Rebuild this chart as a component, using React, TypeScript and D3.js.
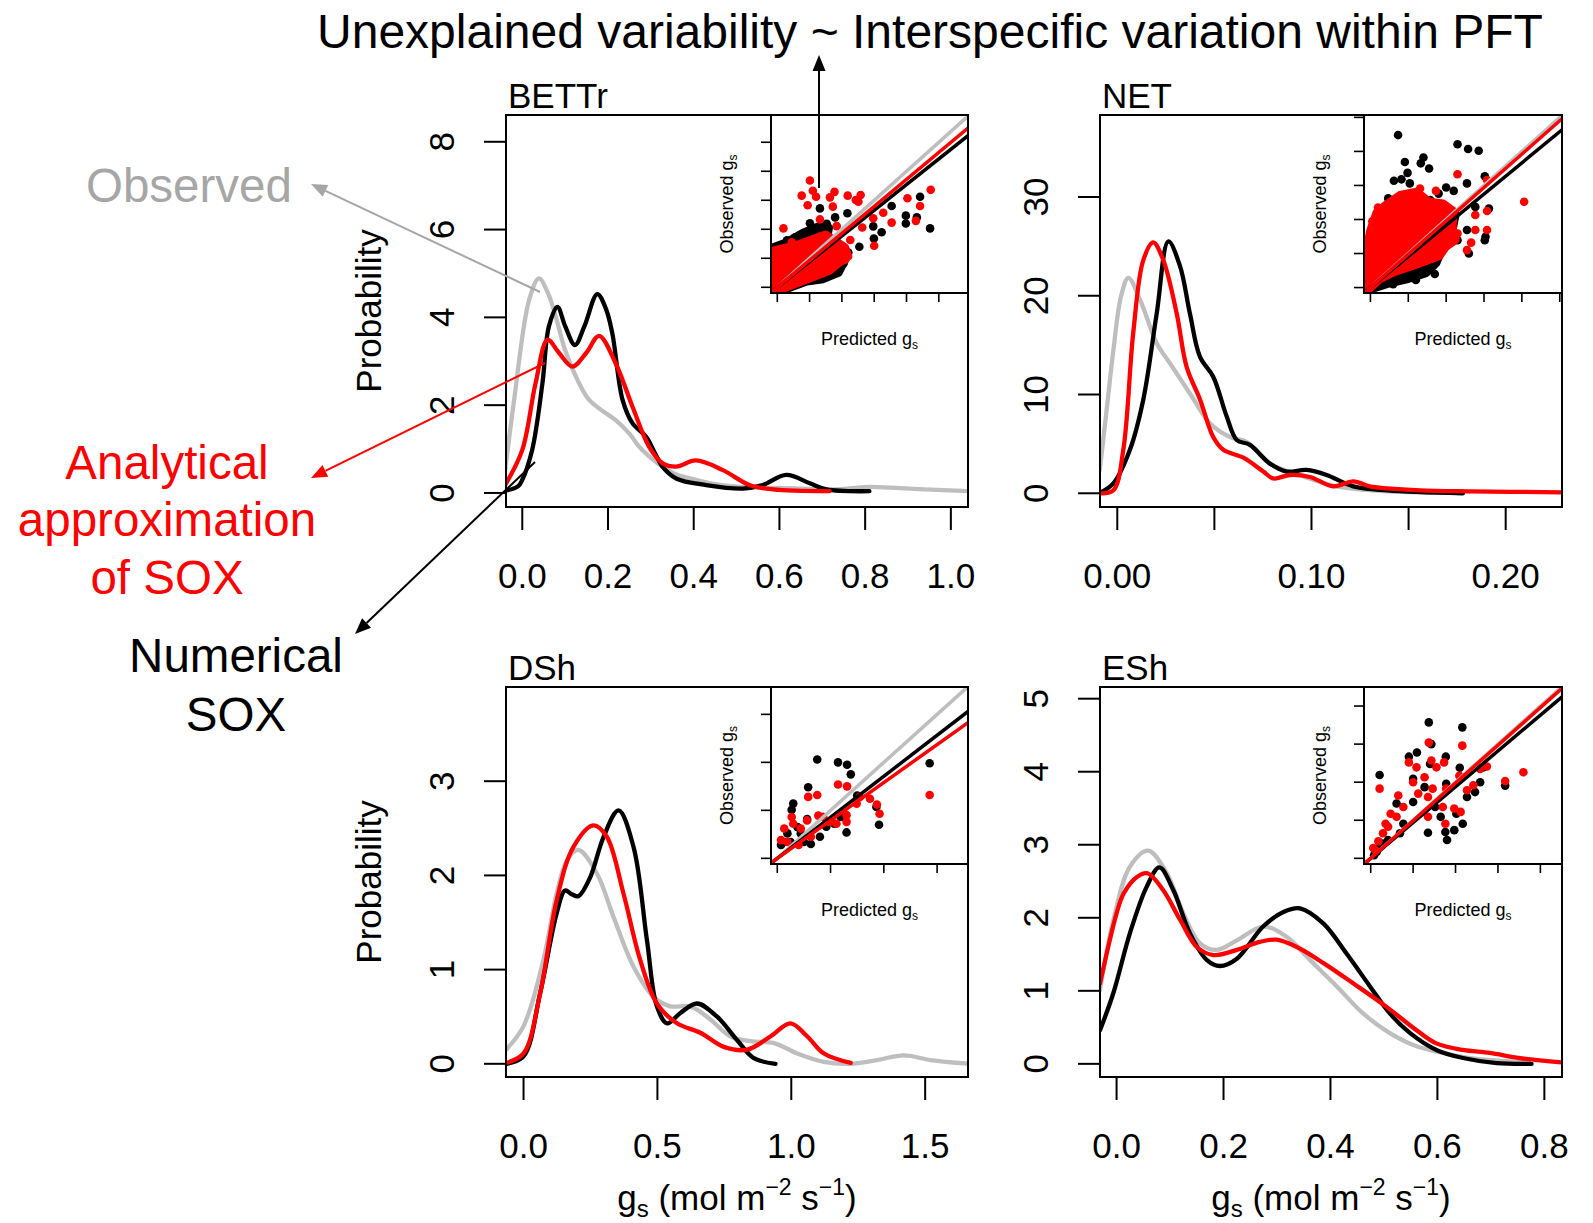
import React from 'react';
import * as d3 from 'd3';

const FONT = "'Liberation Sans', Arial, Helvetica, sans-serif";
const GREY = '#bebebe';
const RED = '#ff0000';

// density curves: [gs, probability]
const bettrObserved = [[-0.04, 0.5], [-0.019, 2.12], [0.016, 4.4], [0.039, 4.89], [0.06, 4.55], [0.08, 3.95], [0.1, 3.25], [0.13, 2.55], [0.156, 2.12], [0.19, 1.85], [0.218, 1.66], [0.25, 1.35], [0.273, 1.05], [0.3, 0.8], [0.327, 0.6], [0.36, 0.42], [0.405, 0.3], [0.45, 0.2], [0.507, 0.14], [0.56, 0.12], [0.624, 0.11], [0.7, 0.08], [0.76, 0.1], [0.81, 0.14], [0.86, 0.12], [0.94, 0.08], [1.04, 0.04]];
const bettrNumerical = [[-0.04, 0.05], [-0.01, 0.15], [0.0, 0.3], [0.023, 0.98], [0.047, 2.5], [0.062, 3.79], [0.082, 4.24], [0.1, 3.8], [0.123, 3.37], [0.145, 3.8], [0.175, 4.53], [0.195, 4.2], [0.21, 3.64], [0.234, 2.12], [0.257, 1.59], [0.289, 1.28], [0.31, 0.9], [0.327, 0.6], [0.359, 0.33], [0.429, 0.18], [0.515, 0.1], [0.561, 0.18], [0.616, 0.41], [0.671, 0.22], [0.71, 0.08], [0.81, 0.04]];
const bettrAnalytical = [[-0.04, 0.18], [0.0, 0.98], [0.031, 2.5], [0.059, 3.49], [0.085, 3.2], [0.117, 2.88], [0.15, 3.2], [0.179, 3.58], [0.218, 2.95], [0.257, 1.97], [0.296, 1.05], [0.327, 0.68], [0.359, 0.6], [0.405, 0.74], [0.468, 0.52], [0.53, 0.18], [0.585, 0.08], [0.717, 0.04]];

const netObserved = [[-0.009, 2.36], [-0.0055, 8.4], [-0.002, 14.5], [0.002, 20.0], [0.0057, 21.8], [0.0117, 19.6], [0.0203, 15.2], [0.027, 13.2], [0.0374, 10.1], [0.0477, 7.1], [0.058, 5.7], [0.0666, 5.2], [0.0786, 3.0], [0.0958, 1.7], [0.113, 0.7], [0.139, 0.2], [0.178, 0.04]];
const netNumerical = [[-0.009, 0.04], [-0.002, 1.0], [0.0065, 4.4], [0.0134, 9.5], [0.0203, 18.2], [0.0263, 25.5], [0.0323, 23.0], [0.0374, 18.2], [0.0426, 13.8], [0.0494, 11.8], [0.0563, 7.8], [0.0615, 5.4], [0.0683, 4.9], [0.0786, 3.0], [0.0872, 2.2], [0.0975, 2.36], [0.1078, 1.85], [0.1215, 0.7], [0.139, 0.3], [0.178, 0.0]];
const netAnalytical = [[-0.009, 0.0], [-0.002, 0.3], [0.0031, 4.4], [0.0082, 16.2], [0.0134, 23.6], [0.0185, 25.4], [0.0237, 23.6], [0.0306, 18.2], [0.0357, 12.8], [0.0426, 9.5], [0.0494, 5.7], [0.0546, 4.4], [0.0649, 3.6], [0.0752, 2.2], [0.0803, 1.5], [0.0889, 1.85], [0.0992, 1.65], [0.1112, 0.7], [0.1215, 1.2], [0.13, 0.7], [0.139, 0.5], [0.156, 0.3], [0.1816, 0.2], [0.229, 0.1]];

const dshObserved = [[-0.065, 0.15], [0.0, 0.4], [0.074, 1.1], [0.124, 1.81], [0.162, 2.16], [0.205, 2.27], [0.274, 2.02], [0.336, 1.56], [0.411, 1.03], [0.486, 0.71], [0.548, 0.61], [0.623, 0.61], [0.698, 0.47], [0.773, 0.29], [0.848, 0.24], [0.935, 0.22], [1.022, 0.11], [1.122, 0.02], [1.22, 0.0], [1.32, 0.04], [1.42, 0.09], [1.52, 0.04], [1.665, 0.0]];
const dshNumerical = [[-0.065, 0.0], [0.0, 0.08], [0.062, 0.75], [0.124, 1.6], [0.155, 1.84], [0.18, 1.8], [0.205, 1.78], [0.249, 1.98], [0.299, 2.41], [0.355, 2.69], [0.411, 2.3], [0.461, 1.31], [0.498, 0.61], [0.536, 0.43], [0.586, 0.54], [0.648, 0.64], [0.723, 0.5], [0.798, 0.25], [0.86, 0.06], [0.941, 0.0]];
const dshAnalytical = [[-0.065, 0.01], [0.0, 0.11], [0.062, 0.75], [0.124, 1.74], [0.186, 2.3], [0.261, 2.53], [0.311, 2.41], [0.373, 1.81], [0.436, 1.1], [0.498, 0.64], [0.573, 0.43], [0.66, 0.33], [0.748, 0.18], [0.835, 0.15], [0.922, 0.29], [0.997, 0.43], [1.06, 0.29], [1.122, 0.11], [1.222, 0.01]];

const eshObserved = [[-0.031, 1.01], [-0.006, 1.97], [0.025, 2.7], [0.059, 2.92], [0.094, 2.61], [0.125, 2.06], [0.156, 1.65], [0.187, 1.56], [0.225, 1.69], [0.274, 1.88], [0.318, 1.74], [0.362, 1.42], [0.412, 1.06], [0.461, 0.69], [0.511, 0.42], [0.561, 0.24], [0.611, 0.15], [0.661, 0.08], [0.723, 0.04], [0.77, 0.02]];
const eshNumerical = [[-0.031, 0.46], [-0.006, 0.97], [0.025, 1.79], [0.056, 2.42], [0.08, 2.69], [0.106, 2.38], [0.137, 1.79], [0.169, 1.42], [0.193, 1.34], [0.225, 1.44], [0.274, 1.88], [0.312, 2.08], [0.343, 2.13], [0.387, 1.92], [0.43, 1.51], [0.474, 1.06], [0.511, 0.69], [0.549, 0.42], [0.598, 0.19], [0.648, 0.08], [0.711, 0.01], [0.776, 0.0]];
const eshAnalytical = [[-0.031, 1.1], [0.0, 2.06], [0.013, 2.33], [0.038, 2.56], [0.058, 2.61], [0.087, 2.38], [0.119, 1.97], [0.15, 1.6], [0.181, 1.49], [0.225, 1.56], [0.268, 1.67], [0.299, 1.7], [0.337, 1.6], [0.387, 1.38], [0.443, 1.1], [0.505, 0.78], [0.561, 0.46], [0.598, 0.28], [0.648, 0.19], [0.698, 0.15], [0.754, 0.08], [0.832, 0.02]];

// inset scatter: [predicted, observed] in inset tick units
const bettrPtsNum = [[1.32, 2.72], [1.79, 2.41], [2.17, 2.55], [1.01, 2.21], [1.53, 2.19], [0.7, 1.8], [3.54, 2.8], [4.42, 3.12], [3.98, 2.47], [4.32, 2.41], [3.98, 2.2], [4.73, 2.03], [2.97, 2.1], [3.23, 1.9], [2.99, 1.68], [2.54, 1.4], [2.05, 1.06], [1.58, 0.54], [2.05, 0.82], [1.32, 0.37], [1.07, 0.25], [0.3, 1.62], [0.55, 1.72], [1.9, 0.6], [2.2, 1.2]];
const bettrPtsAna = [[1.01, 3.68], [0.755, 3.16], [1.1, 3.33], [1.2, 3.12], [0.94, 2.83], [1.77, 3.29], [1.63, 3.1], [1.72, 2.78], [2.18, 3.16], [2.58, 3.18], [2.43, 3.01], [2.51, 2.95], [0.19, 2.03], [1.32, 2.34], [1.84, 2.11], [2.97, 2.38], [3.28, 2.57], [3.54, 2.23], [3.0, 1.43], [4.03, 3.07], [4.42, 2.8], [4.75, 3.36], [4.29, 2.29], [2.63, 2.06], [2.26, 1.63], [1.94, 1.4], [1.32, 1.75], [1.63, 0.88], [1.2, 0.71], [0.45, 1.55], [2.1, 0.95]];
const bettrCloudNum = [[-0.15, -0.15], [-0.13, 1.38], [0.29, 1.55], [0.8, 1.88], [1.27, 2.1], [1.6, 2.05], [1.53, 1.63], [1.9, 1.23], [2.1, 0.94], [1.9, 0.5], [1.42, 0.28], [0.91, 0.2], [0.39, -0.02], [-0.02, -0.15]];
const bettrCloudAna = [[-0.13, -0.15], [-0.1, 1.27], [0.29, 1.38], [0.7, 1.5], [1.11, 1.66], [1.5, 1.82], [1.8, 1.6], [2.1, 1.38], [2.2, 1.06], [1.9, 0.83], [1.6, 0.56], [1.22, 0.4], [0.8, 0.22], [0.39, 0.04], [-0.02, -0.15]];

const netPtsNum = [[0.73, 4.48], [2.3, 4.21], [2.58, 4.07], [2.86, 4.02], [0.91, 3.69], [1.33, 3.65], [1.55, 3.5], [1.4, 3.82], [0.98, 3.37], [0.62, 3.14], [0.82, 3.18], [1.04, 3.06], [2.55, 3.06], [3.02, 3.27], [2.0, 2.94], [2.2, 2.84], [1.8, 2.76], [0.47, 2.62], [0.65, 2.57], [1.58, 2.57], [1.04, 2.62], [2.77, 2.37], [3.13, 2.32], [2.55, 1.69], [3.04, 1.49], [3.02, 1.39], [2.3, 1.39], [2.6, 1.0], [0.25, 1.88], [1.7, 0.4], [1.2, 0.22], [0.6, 0.1]];
const netPtsAna = [[2.3, 3.33], [3.08, 3.16], [4.06, 2.52], [1.73, 2.84], [1.31, 2.91], [0.47, 2.27], [2.77, 2.13], [3.08, 2.25], [3.08, 1.69], [2.77, 1.69], [2.3, 1.59], [2.66, 1.32], [2.55, 1.1], [1.31, 2.57], [0.05, 1.95], [0.2, 2.35]];
const netCloudNum = [[-0.15, -0.08], [-0.1, 1.19], [0.07, 1.74], [0.29, 2.3], [0.56, 2.5], [0.87, 2.68], [1.22, 2.52], [1.58, 2.42], [2.02, 2.32], [2.25, 2.15], [2.17, 1.69], [2.0, 1.39], [1.74, 0.72], [1.47, 0.42], [0.96, 0.24], [0.43, 0.1], [0.07, -0.03]];
const netCloudAna = [[-0.15, -0.08], [-0.1, 1.1], [-0.01, 1.66], [0.16, 2.2], [0.43, 2.45], [0.78, 2.72], [1.22, 2.82], [1.56, 2.52], [1.92, 2.47], [2.2, 2.24], [2.17, 1.78], [2.25, 1.4], [2.0, 1.2], [1.82, 0.92], [1.56, 0.82], [1.13, 0.64], [0.6, 0.44], [0.25, 0.25], [-0.02, -0.03]];

const dshPtsNum = [[0.75, 2.06], [1.14, 2.0], [1.31, 1.95], [1.38, 1.75], [0.58, 1.48], [0.3, 1.14], [0.27, 1.01], [2.86, 1.98], [1.5, 1.31], [1.86, 1.07], [1.91, 0.7], [1.3, 0.54], [0.86, 0.86], [0.92, 0.66], [0.8, 0.45], [0.56, 0.82], [0.5, 0.34], [0.25, 0.34], [0.19, 0.52], [0.38, 0.65], [0.63, 0.3], [1.19, 0.86], [1.07, 0.72], [0.13, 0.34], [0.44, 0.52], [0.07, 0.28]];
const dshPtsAna = [[1.14, 1.54], [1.31, 1.5], [0.58, 1.28], [0.75, 1.32], [2.86, 1.32], [1.49, 1.14], [1.74, 1.24], [1.87, 1.12], [1.92, 0.93], [1.3, 0.9], [1.3, 0.76], [0.86, 0.86], [0.98, 0.76], [0.27, 0.86], [0.3, 0.72], [0.13, 0.62], [0.56, 0.79], [0.44, 0.62], [0.19, 0.34], [0.63, 0.45], [0.77, 0.89], [1.55, 1.28], [0.4, 0.28], [0.07, 0.38], [1.11, 0.72]];

const eshPtsNum = [[1.37, 3.57], [2.16, 3.44], [1.43, 3.0], [0.21, 2.19], [1.09, 2.78], [0.9, 2.67], [1.77, 2.67], [1.4, 2.48], [2.1, 2.38], [1.0, 2.09], [1.27, 1.87], [1.78, 1.96], [2.58, 2.0], [3.17, 1.91], [2.66, 2.39], [2.46, 1.74], [2.27, 1.61], [0.61, 1.44], [1.0, 1.48], [1.65, 1.09], [1.35, 0.67], [1.8, 0.48], [1.76, 0.69], [1.97, 0.74], [2.17, 0.91], [2.02, 1.17], [0.77, 0.91], [0.69, 0.66], [0.41, 0.48], [0.21, 0.31], [0.14, 0.17], [0.29, 0.39], [1.52, 1.35], [0.08, 0.08]];
const eshPtsAna = [[1.37, 3.04], [2.16, 2.96], [0.9, 2.52], [1.08, 2.39], [1.43, 2.57], [1.55, 2.39], [1.73, 2.52], [0.21, 1.83], [1.0, 2.0], [1.27, 2.13], [1.46, 1.83], [1.78, 1.83], [2.09, 2.17], [2.58, 2.35], [2.74, 2.41], [3.6, 2.26], [3.17, 2.03], [2.42, 1.92], [2.27, 1.79], [0.65, 1.65], [0.77, 1.35], [0.47, 1.17], [0.35, 0.91], [1.35, 1.09], [1.7, 1.35], [1.97, 1.31], [2.12, 1.22], [1.76, 0.91], [1.35, 1.61], [0.61, 1.09], [0.29, 0.66], [0.18, 0.45], [0.06, 0.27], [0.41, 0.83], [1.12, 1.7], [0.12, 0.2]];

// regression slopes through origin (numerical, analytical); 1:1 line drawn in grey
const bettrSlopes = [0.885, 0.93];
const netSlopes = [0.916, 0.98];
const dshSlopes = [0.855, 0.79];
const eshSlopes = [0.94, 0.99];

const panels = [
  {
    id: 'bettr', title: 'BETTr',
    box: { x0: 506, x1: 968, y0: 115, y1: 507 },
    xDomain: [-0.038, 1.04], yDomain: [-0.32, 8.61],
    xTicks: [0, 0.2, 0.4, 0.6, 0.8, 1.0], xLabels: [0, 0.2, 0.4, 0.6, 0.8, 1.0], xFmt: '.1f',
    yTicks: [0, 2, 4, 6, 8], yLabel: true, xTitle: false,
    curves: [bettrObserved, bettrNumerical, bettrAnalytical],
    inset: {
      box: { x0: 771, x1: 968, y0: 115, y1: 293 },
      xDomain: [-0.195, 5.904], yDomain: [-0.197, 5.94], ticks: [0, 1, 2, 3, 4, 5],
      ptsNum: bettrPtsNum, ptsAna: bettrPtsAna, cloudNum: bettrCloudNum, cloudAna: bettrCloudAna, slopes: bettrSlopes,
    },
  },
  {
    id: 'net', title: 'NET',
    box: { x0: 1100, x1: 1562, y0: 115, y1: 507 },
    xDomain: [-0.0089, 0.229], yDomain: [-1.39, 38.3],
    xTicks: [0, 0.05, 0.1, 0.15, 0.2], xLabels: [0, 0.1, 0.2], xFmt: '.2f',
    yTicks: [0, 10, 20, 30], yLabel: false, xTitle: false,
    curves: [netObserved, netNumerical, netAnalytical],
    inset: {
      box: { x0: 1364, x1: 1562, y0: 115, y1: 293 },
      xDomain: [-0.17, 5.06], yDomain: [-0.16, 5.07], ticks: [0, 1, 2, 3, 4, 5],
      ptsNum: netPtsNum, ptsAna: netPtsAna, cloudNum: netCloudNum, cloudAna: netCloudAna, slopes: netSlopes,
    },
  },
  {
    id: 'dsh', title: 'DSh',
    box: { x0: 506, x1: 968, y0: 687, y1: 1077 },
    xDomain: [-0.0655, 1.66], yDomain: [-0.14, 4.0],
    xTicks: [0, 0.5, 1.0, 1.5], xLabels: [0, 0.5, 1.0, 1.5], xFmt: '.1f',
    yTicks: [0, 1, 2, 3], yLabel: true, xTitle: true,
    curves: [dshObserved, dshNumerical, dshAnalytical],
    inset: {
      box: { x0: 771, x1: 968, y0: 687, y1: 864 },
      xDomain: [-0.118, 3.58], yDomain: [-0.118, 3.57], ticks: [0, 1, 2, 3],
      ptsNum: dshPtsNum, ptsAna: dshPtsAna, cloudNum: [], cloudAna: [], slopes: dshSlopes,
    },
  },
  {
    id: 'esh', title: 'ESh',
    box: { x0: 1100, x1: 1562, y0: 687, y1: 1077 },
    xDomain: [-0.031, 0.833], yDomain: [-0.18, 5.16],
    xTicks: [0, 0.2, 0.4, 0.6, 0.8], xLabels: [0, 0.2, 0.4, 0.6, 0.8], xFmt: '.1f',
    yTicks: [0, 1, 2, 3, 4, 5], yLabel: false, xTitle: true,
    curves: [eshObserved, eshNumerical, eshAnalytical],
    inset: {
      box: { x0: 1364, x1: 1562, y0: 687, y1: 864 },
      xDomain: [-0.158, 4.51], yDomain: [-0.149, 4.5], ticks: [0, 1, 2, 3, 4],
      ptsNum: eshPtsNum, ptsAna: eshPtsAna, cloudNum: [], cloudAna: [], slopes: eshSlopes,
    },
  },
];

function Inset({ id, ins }) {
  const { box } = ins;
  const x = d3.scaleLinear().domain(ins.xDomain).range([box.x0, box.x1]);
  const y = d3.scaleLinear().domain(ins.yDomain).range([box.y1, box.y0]);
  const cloud = d3.line().x(d => x(d[0])).y(d => y(d[1])).curve(d3.curveLinearClosed);
  const abline = (slope) => d3.line()([[x(ins.xDomain[0]), y(ins.xDomain[0] * slope)], [x(ins.xDomain[1]), y(ins.xDomain[1] * slope)]]);
  const cx = (box.x0 + box.x1) / 2;
  const cy = (box.y0 + box.y1) / 2;
  return (
    <g>
      <rect x={box.x0} y={box.y0} width={box.x1 - box.x0} height={box.y1 - box.y0} fill="#fff" />
      <clipPath id={`iclip-${id}`}>
        <rect x={box.x0} y={box.y0} width={box.x1 - box.x0} height={box.y1 - box.y0} />
      </clipPath>
      <g clipPath={`url(#iclip-${id})`}>
        {ins.cloudNum.length > 0 && <path d={cloud(ins.cloudNum)} fill="#000" stroke="#000" strokeWidth={8} strokeLinejoin="round" />}
        {ins.ptsNum.map((d, i) => <circle key={`n${i}`} cx={x(d[0])} cy={y(d[1])} r={4.3} fill="#000" />)}
        {ins.cloudAna.length > 0 && <path d={cloud(ins.cloudAna)} fill={RED} stroke={RED} strokeWidth={8} strokeLinejoin="round" />}
        {ins.ptsAna.map((d, i) => <circle key={`a${i}`} cx={x(d[0])} cy={y(d[1])} r={4.3} fill={RED} />)}
        <path d={abline(1)} stroke={GREY} strokeWidth={3.5} />
        <path d={abline(ins.slopes[0])} stroke="#000" strokeWidth={3.5} />
        <path d={abline(ins.slopes[1])} stroke={RED} strokeWidth={3.5} />
      </g>
      <rect x={box.x0} y={box.y0} width={box.x1 - box.x0} height={box.y1 - box.y0} fill="none" stroke="#000" strokeWidth={2} />
      {ins.ticks.map(t => <line key={`x${t}`} x1={x(t)} x2={x(t)} y1={box.y1 + 1} y2={box.y1 + 9} stroke="#000" strokeWidth={1.6} />)}
      {ins.ticks.map(t => <line key={`y${t}`} x1={box.x0 - 10} x2={box.x0} y1={y(t)} y2={y(t)} stroke="#000" strokeWidth={1.6} />)}
      <text x={cx} y={box.y1 + 52} textAnchor="middle" fontSize={18} fontFamily={FONT}>
        Predicted g<tspan fontSize={12} dy={4}>s</tspan>
      </text>
      <text transform={`translate(${box.x0 - 38},${cy}) rotate(-90)`} textAnchor="middle" fontSize={18} fontFamily={FONT}>
        Observed g<tspan fontSize={12} dy={4}>s</tspan>
      </text>
    </g>
  );
}

function Panel({ p }) {
  const { box } = p;
  const x = d3.scaleLinear().domain(p.xDomain).range([box.x0, box.x1]);
  const y = d3.scaleLinear().domain(p.yDomain).range([box.y1, box.y0]);
  const line = d3.line().x(d => x(d[0])).y(d => y(d[1])).curve(d3.curveCatmullRom.alpha(0.5));
  const colors = [GREY, '#000', RED];
  const fmt = d3.format(p.xFmt);
  const cx = (box.x0 + box.x1) / 2;
  const cy = (box.y0 + box.y1) / 2;
  return (
    <g>
      <clipPath id={`clip-${p.id}`}>
        <rect x={box.x0} y={box.y0} width={box.x1 - box.x0} height={box.y1 - box.y0} />
      </clipPath>
      <g clipPath={`url(#clip-${p.id})`}>
        {p.curves.map((c, i) => (
          <path key={i} d={line(c)} fill="none" stroke={colors[i]} strokeWidth={4.3} strokeLinejoin="round" strokeLinecap="round" />
        ))}
      </g>
      <Inset id={p.id} ins={p.inset} />
      <rect x={box.x0} y={box.y0} width={box.x1 - box.x0} height={box.y1 - box.y0} fill="none" stroke="#000" strokeWidth={2} />
      {p.xTicks.map(t => <line key={`xt${t}`} x1={x(t)} x2={x(t)} y1={box.y1 + 1} y2={box.y1 + 23} stroke="#000" strokeWidth={2} />)}
      {p.xLabels.map(t => (
        <text key={`xl${t}`} x={x(t)} y={box.y1 + 81} textAnchor="middle" fontSize={35} fontFamily={FONT}>{fmt(t)}</text>
      ))}
      {p.yTicks.map(t => <line key={`yt${t}`} x1={box.x0 - 22} x2={box.x0} y1={y(t)} y2={y(t)} stroke="#000" strokeWidth={2} />)}
      {p.yTicks.map(t => (
        <text key={`yl${t}`} transform={`translate(${box.x0 - 52},${y(t)}) rotate(-90)`} textAnchor="middle" fontSize={35} fontFamily={FONT}>{t}</text>
      ))}
      <text x={box.x0 + 2} y={box.y0 - 7} fontSize={35} fontFamily={FONT}>{p.title}</text>
      {p.yLabel && (
        <text transform={`translate(${box.x0 - 125},${cy}) rotate(-90)`} textAnchor="middle" fontSize={35} fontFamily={FONT}>Probability</text>
      )}
      {p.xTitle && (
        <text x={cx} y={box.y1 + 133} textAnchor="middle" fontSize={35} fontFamily={FONT}>
          g<tspan fontSize={24} dy={7}>s</tspan><tspan dy={-7}> (mol m</tspan><tspan fontSize={23} dy={-15}>−2</tspan><tspan dy={15}> s</tspan><tspan fontSize={23} dy={-15}>−1</tspan><tspan dy={15}>)</tspan>
        </text>
      )}
    </g>
  );
}

function Arrow({ from, to, color }) {
  const [x1, y1] = from;
  const [x2, y2] = to;
  const a = Math.atan2(y2 - y1, x2 - x1);
  const len = 16, hw = 6.5;
  const bx = x2 - len * Math.cos(a), by = y2 - len * Math.sin(a);
  const pts = [[x2, y2], [bx + hw * Math.sin(a), by - hw * Math.cos(a)], [bx - hw * Math.sin(a), by + hw * Math.cos(a)]];
  return (
    <g>
      <line x1={x1} y1={y1} x2={bx} y2={by} stroke={color} strokeWidth={2} />
      <polygon points={pts.map(p => p.join(',')).join(' ')} fill={color} />
    </g>
  );
}

export default function App() {
  return (
    <svg width={1593} height={1223} style={{ position: 'absolute', left: 0, top: 0, background: '#fff' }} fontFamily={FONT}>
      <rect width={1593} height={1223} fill="#fff" />
      {panels.map(p => <Panel key={p.id} p={p} />)}

      <text x={930} y={48} textAnchor="middle" fontSize={48} fontFamily={FONT}>
        Unexplained variability ~ Interspecific variation within PFT
      </text>
      <Arrow from={[819, 188]} to={[819, 55]} color="#000" />

      <text x={86} y={202} fontSize={47.5} fill="#a6a6a6" fontFamily={FONT}>Observed</text>
      <Arrow from={[540, 292]} to={[311, 184]} color="#a6a6a6" />

      <g fill={RED} fontSize={47.5} fontFamily={FONT} textAnchor="middle">
        <text x={167} y={479}>Analytical</text>
        <text x={167} y={536}>approximation</text>
        <text x={167} y={594}>of SOX</text>
      </g>
      <Arrow from={[545, 363]} to={[311, 478]} color={RED} />

      <g fill="#000" fontSize={47.5} fontFamily={FONT} textAnchor="middle">
        <text x={236} y={672}>Numerical</text>
        <text x={236} y={731}>SOX</text>
      </g>
      <Arrow from={[535, 462]} to={[355, 634]} color="#000" />
    </svg>
  );
}
